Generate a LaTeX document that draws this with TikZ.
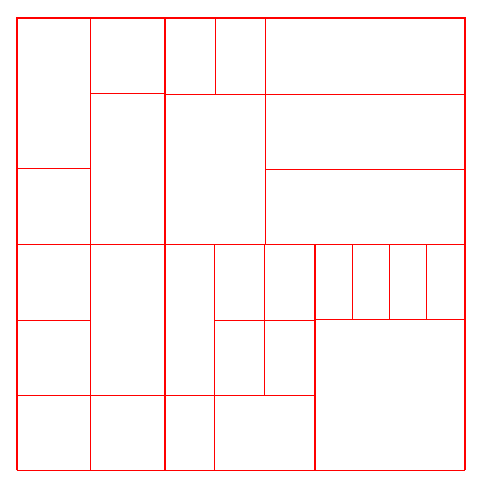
\documentclass[tikz,border=0pt]{standalone}
\begin{document}
\begin{tikzpicture}[x=1pt,y=-1pt,
  thin line/.style={draw=red,line width=1pt},
  thick line/.style={draw=red,line width=1.8pt}]
\useasboundingbox (0,0) rectangle (481,491);
% top-left block
\draw[thin line] (90.3,17.7) -- (90.3,470);
\draw[thin line] (16.7,168.5) -- (90.3,168.5);
\draw[thin line] (90.3,93.3) -- (164.7,93.3);
% top-right block
\draw[thin line] (215.3,17.7) -- (215.3,94.3);
\draw[thin line] (265.3,17.7) -- (265.3,244);
\draw[thin line] (164.7,94.3) -- (464.7,94.3);
\draw[thin line] (265.3,169) -- (464.7,169);
% middle horizontal
\draw[thin line] (16.7,244) -- (464.7,244);
% bottom-left
\draw[thin line] (16.7,320) -- (90.3,320);
\draw[thin line] (16.7,395) -- (164.7,395);
% bottom-middle
\draw[thin line] (214.5,244) -- (214.5,470);
\draw[thin line] (264.5,244) -- (264.5,395);
\draw[thin line] (214.5,320) -- (314.7,320);
\draw[thin line] (164.7,395) -- (314.7,395);
% bottom-right
\draw[thin line] (314.7,319.3) -- (464.7,319.3);
\foreach \xx in {352.3,389.5,426.7}
  \draw[thin line] (\xx,244) -- (\xx,319.3);
% bottom border
\draw[thin line] (16.7,470) -- (464.7,470);
% thick lines
\draw[thick line] (16.7,470) -- (16.7,17.7) -- (464.7,17.7) -- (464.7,470);
\draw[thick line] (164.7,17.7) -- (164.7,470);
\draw[thick line] (314.7,244) -- (314.7,470);
\end{tikzpicture}
\end{document}
